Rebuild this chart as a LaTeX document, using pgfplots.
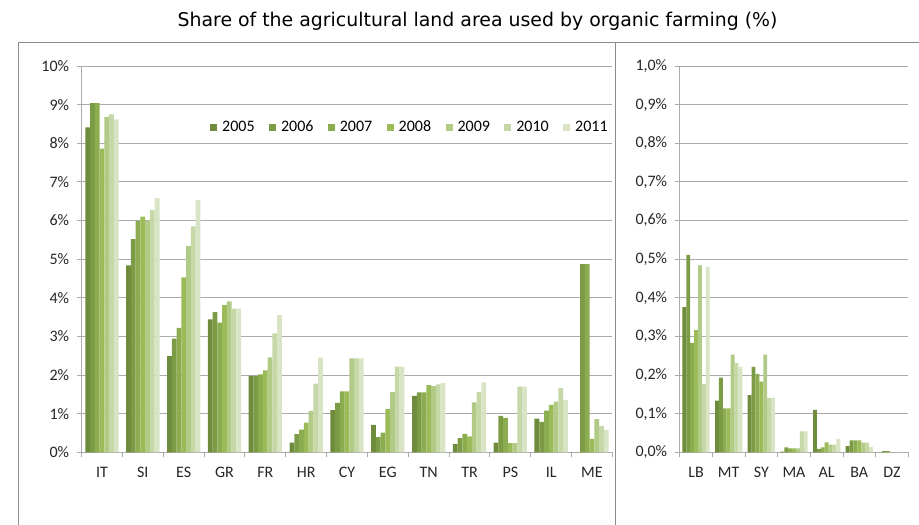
\documentclass[border=0pt]{standalone}
\usepackage{pgfplots}
\usepackage{pgfplotstable}
\pgfplotsset{compat=1.18}
\usepackage{fontspec}
\setmainfont{Carlito}
\newfontfamily\titlefont{DejaVu Sans}
\definecolor{c1}{HTML}{6F8C3C}
\definecolor{c2}{HTML}{7C9B45}
\definecolor{c3}{HTML}{8BAD4F}
\definecolor{c4}{HTML}{9BBB59}
\definecolor{c5}{HTML}{B1CA85}
\definecolor{c6}{HTML}{C6D8A8}
\definecolor{c7}{HTML}{D9E4C5}
\definecolor{gridc}{HTML}{ABABAB}
\definecolor{framec}{HTML}{8C8C8C}

\pgfplotstableread{
x a b c d e f g
0 8.41 9.04 9.04 7.86 8.68 8.75 8.62
1 4.84 5.52 5.99 6.10 6.00 6.27 6.58
2 2.49 2.94 3.22 4.53 5.34 5.85 6.53
3 3.44 3.63 3.36 3.81 3.91 3.72 3.72
4 1.98 1.98 2.02 2.12 2.46 3.08 3.55
5 0.25 0.47 0.59 0.77 1.07 1.78 2.45
6 1.09 1.28 1.58 1.58 2.43 2.43 2.43
7 0.71 0.39 0.51 1.12 1.56 2.22 2.22
8 1.46 1.55 1.55 1.74 1.71 1.76 1.80
9 0.21 0.37 0.48 0.41 1.29 1.56 1.81
10 0.25 0.94 0.89 0.24 0.24 1.70 1.70
11 0.87 0.79 1.08 1.23 1.31 1.66 1.36
12 0 4.87 4.87 0.35 0.86 0.68 0.58
}\lefttab

\pgfplotstableread{
x a b c d e f g
0 0.376 0.511 0.283 0.316 0.484 0.177 0.480
1 0.134 0.193 0.114 0.114 0.253 0.231 0.221
2 0.148 0.221 0.203 0.183 0.253 0.141 0.141
3 0.002 0.013 0.010 0.010 0.010 0.054 0.054
4 0.110 0.009 0.013 0.026 0.020 0.020 0.035
5 0.016 0.031 0.031 0.031 0.025 0.025 0.014
6 0 0.003 0.003 0 0 0 0
}\righttab

\pgfplotsset{
  mystyle/.style={
    scale only axis,
    ybar=0pt,
    ymin=0,
    enlargelimits=false,
    axis x line*=bottom,
    axis y line*=left,
    axis line style={gridc, line width=0.9pt},
    ymajorgrids,
    grid style={gridc, line width=0.9pt},
    tick align=outside,
    major tick length=5pt,
    minor tick length=5pt,
    tick style={gridc, line width=0.9pt},
    major x tick style={draw=none},
    tick label style={font=\fontsize{16}{16}\selectfont, text=black!85},
    xticklabel style={yshift=-6pt},
    yticklabel style={xshift=-4pt},
    xtick={0,...,12},
    clip=false,
  }
}

\begin{document}
\begin{tikzpicture}[x=1pt,y=1pt]
\useasboundingbox (0,0) rectangle (919,525);
\draw[framec, line width=1pt] (18.5,-2) -- (18.5,482.3) -- (919,482.3);
\draw[framec, line width=1pt] (615,-2) -- (615,482.3);
\node[font=\titlefont\fontsize{18.9}{19}\selectfont] at (477.5,504) {Share of the agricultural land area used by organic farming (\%)};

\begin{axis}[mystyle,
  at={(81.6pt,72.7pt)}, anchor=south west,
  width=530.8pt, height=386.3pt,
  bar width=4.76pt,
  xmin=-0.5, xmax=12.5, ymax=10,
  xticklabels={IT,SI,ES,GR,FR,HR,CY,EG,TN,TR,PS,IL,ME},
  minor xtick={-0.5,0.5,...,12.5},
  ytick={0,1,...,10},
  yticklabels={0\%,1\%,2\%,3\%,4\%,5\%,6\%,7\%,8\%,9\%,10\%},
  legend columns=7,
  legend image code/.code={\fill[#1] (0pt,-3.5pt) rectangle (7pt,3.5pt);},
  legend style={at={(0.2419,0.842)}, anchor=west, draw=none, fill=none, inner sep=0pt,
    font=\fontsize{16}{16}\selectfont,
    /tikz/every odd column/.append style={column sep=3pt},
    /tikz/every even column/.append style={column sep=12.4pt}},
]
\addplot[fill=c1, draw=none] table[x=x,y=a] {\lefttab};
\addplot[fill=c2, draw=none] table[x=x,y=b] {\lefttab};
\addplot[fill=c3, draw=none] table[x=x,y=c] {\lefttab};
\addplot[fill=c4, draw=none] table[x=x,y=d] {\lefttab};
\addplot[fill=c5, draw=none] table[x=x,y=e] {\lefttab};
\addplot[fill=c6, draw=none] table[x=x,y=f] {\lefttab};
\addplot[fill=c7, draw=none] table[x=x,y=g] {\lefttab};
\legend{2005,2006,2007,2008,2009,2010,2011}
\end{axis}

\begin{axis}[mystyle,
  at={(679.7pt,72.7pt)}, anchor=south west,
  width=228.6pt, height=386.3pt,
  bar width=3.9pt,
  xmin=-0.5, xmax=6.5, ymax=1.0,
  xtick={0,...,6},
  xticklabels={LB,MT,SY,MA,AL,BA,DZ},
  minor xtick={-0.5,0.5,...,6.5},
  ytick={0,0.1,...,1.0},
  yticklabels={{0,0\%},{0,1\%},{0,2\%},{0,3\%},{0,4\%},{0,5\%},{0,6\%},{0,7\%},{0,8\%},{0,9\%},{1,0\%}},
]
\addplot[fill=c1, draw=none] table[x=x,y=a] {\righttab};
\addplot[fill=c2, draw=none] table[x=x,y=b] {\righttab};
\addplot[fill=c3, draw=none] table[x=x,y=c] {\righttab};
\addplot[fill=c4, draw=none] table[x=x,y=d] {\righttab};
\addplot[fill=c5, draw=none] table[x=x,y=e] {\righttab};
\addplot[fill=c6, draw=none] table[x=x,y=f] {\righttab};
\addplot[fill=c7, draw=none] table[x=x,y=g] {\righttab};
\end{axis}
\end{tikzpicture}
\end{document}
